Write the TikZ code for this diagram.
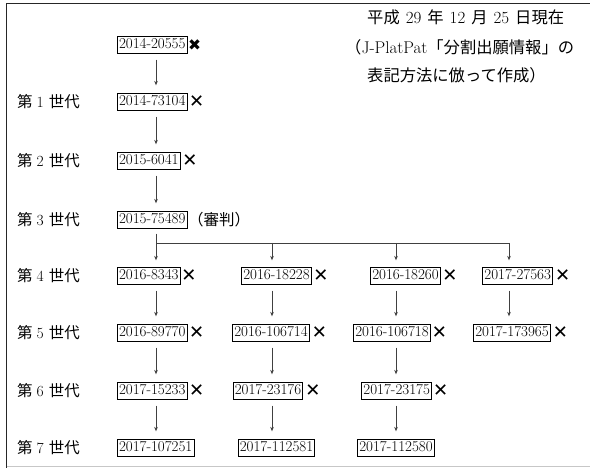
\documentclass[tikz,border=0pt]{standalone}
\usepackage{fontspec}
\newfontfamily\jpf{Noto Sans CJK JP}
\newfontfamily\symf{DejaVu Sans}
\usetikzlibrary{arrows.meta}
\newcommand{\jt}[1]{{\jpf\fontsize{15.5}{18}\selectfont #1}}
\newcommand{\jn}[1]{{\jpf\fontsize{16.3}{19}\selectfont #1}}
\tikzset{
  pat/.style={draw=black, line width=0.8pt, inner xsep=1.6pt, inner ysep=1.6pt,
    text height=10.3pt, text depth=3pt, font=\fontsize{15}{18}\selectfont},
  ng/.style={inner sep=0pt, anchor=west, font=\symf\fontsize{18}{20}\selectfont},
  ngb/.style={inner sep=0pt, anchor=west, font=\symf\fontsize{15.5}{17}\selectfont},
  gen/.style={anchor=west, inner sep=0pt, font=\fontsize{15.5}{18}\selectfont},
  note/.style={anchor=west, inner sep=0pt, font=\fontsize{17}{19}\selectfont},
  arr/.style={draw=black!75, line width=0.7pt, shorten <=6pt, shorten >=8pt,
    -{Stealth[length=4.5pt,width=3.6pt]}},
  ln/.style={draw=black!75, line width=0.7pt},
}
\begin{document}
\begin{tikzpicture}[x=1pt,y=-1pt]
\useasboundingbox (0,0) rectangle (590,468);
% frame
\draw[black!85, line width=1.3pt] (6.5,468) -- (6.5,3.5) -- (590,3.5);
\draw[black!22, line width=1.5pt] (6.5,466.5) -- (590,466.5);

% column coordinates
\coordinate (c1) at (156,0);
\coordinate (c2) at (272,0);
\coordinate (c3) at (396,0);
\coordinate (c4) at (509,0);
\coordinate (br) at (156,243);

% note
\node[note] (t1) at (367,17) {\jn{平成}\hspace{6pt}29\hspace{6pt}\jn{年}\hspace{6pt}12\hspace{6pt}\jn{月}\hspace{6pt}25\hspace{6pt}\jn{日現在}};
\node[note] (t2) at (345,47) {\jn{（}J-PlatPat\jn{「分割出願情報」の}};
\node[note] (t3) at (367,75) {\jn{表記方法に倣って作成）}};

% generation labels
\node[gen] (g1) at (17,102) {\jt{第}\hspace{4pt}1\hspace{5pt}\jt{世代}};
\node[gen] (g2) at (17,161) {\jt{第}\hspace{4pt}2\hspace{5pt}\jt{世代}};
\node[gen] (g3) at (17,220) {\jt{第}\hspace{4pt}3\hspace{5pt}\jt{世代}};
\node[gen] (g4) at (17,276) {\jt{第}\hspace{4pt}4\hspace{5pt}\jt{世代}};
\node[gen] (g5) at (17,333) {\jt{第}\hspace{4pt}5\hspace{5pt}\jt{世代}};
\node[gen] (g6) at (17,391) {\jt{第}\hspace{4pt}6\hspace{5pt}\jt{世代}};
\node[gen] (g7) at (17,448) {\jt{第}\hspace{4pt}7\hspace{5pt}\jt{世代}};

% column 1
\node[pat, anchor=west] (a0) at (117,45) {2014-20555};
\node[ngb] (xa0) at ([xshift=0.5pt]a0.east) {✖};
\node[pat, anchor=west] (a1) at (117,102) {2014-73104};
\node[ng] (xa1) at ([xshift=1.5pt]a1.east) {✕};
\node[pat, anchor=west] (a2) at (117,161) {2015-6041};
\node[ng] (xa2) at ([xshift=1.5pt]a2.east) {✕};
\node[pat, anchor=west] (a3) at (117,220) {2015-75489};
\node[note, inner sep=0pt] (sh) at ([xshift=0.5pt]a3.east) {\jt{（審判）}};
\node[pat, anchor=west] (a4) at (117,276) {2016-8343};
\node[ng] (xa4) at ([xshift=0.5pt]a4.east) {✕};
\node[pat, anchor=west] (a5) at (117,333) {2016-89770};
\node[ng] (xa5) at ([xshift=1.5pt]a5.east) {✕};
\node[pat, anchor=west] (a6) at (117,391) {2017-15233};
\node[ng] (xa6) at ([xshift=1.5pt]a6.east) {✕};
\node[pat, anchor=west] (a7) at (117,448) {2017-107251};

% column 2
\node[pat] (b4) at (276.5,276) {2016-18228};
\node[ng] (xb4) at ([xshift=1.5pt]b4.east) {✕};
\node[pat] (b5) at (271,333) {2016-106714};
\node[ng] (xb5) at ([xshift=2pt]b5.east) {✕};
\node[pat] (b6) at (268,391) {2017-23176};
\node[ng] (xb6) at ([xshift=2pt]b6.east) {✕};
\node[pat] (b7) at (276.5,448) {2017-112581};

% column 3
\node[pat] (d4) at (405.5,276) {2016-18260};
\node[ng] (xd4) at ([xshift=1.5pt]d4.east) {✕};
\node[pat] (d5) at (392,333) {2016-106718};
\node[ng] (xd5) at ([xshift=1pt]d5.east) {✕};
\node[pat] (d6) at (396.7,391) {2017-23175};
\node[ng] (xd6) at ([xshift=1pt]d6.east) {✕};
\node[pat] (d7) at (396,448) {2017-112580};

% column 4
\node[pat] (e4) at (517.7,276) {2017-27563};
\node[ng] (xe4) at ([xshift=2pt]e4.east) {✕};
\node[pat] (e5) at (512,333) {2017-173965};
\node[ng] (xe5) at ([xshift=2pt]e5.east) {✕};

% connectors column 1
\draw[arr] (a0.south -| c1) -- (a1.north -| c1);
\draw[arr] (a1.south -| c1) -- (a2.north -| c1);
\draw[arr] (a2.south -| c1) -- (a3.north -| c1);
\draw[ln, shorten <=5pt] (a3.south -| c1) -- (c1 |- br) -- (c4 |- br);
\draw[arr, shorten <=0pt, shorten >=7pt] (c1 |- br) -- (a4.north -| c1);
\draw[arr, shorten <=0pt, shorten >=7pt] (c2 |- br) -- (b4.north -| c2);
\draw[arr, shorten <=0pt, shorten >=7pt] (c3 |- br) -- (d4.north -| c3);
\draw[arr, shorten <=0pt, shorten >=7pt] (c4 |- br) -- (e4.north -| c4);
\draw[arr] (a4.south -| c1) -- (a5.north -| c1);
\draw[arr] (a5.south -| c1) -- (a6.north -| c1);
\draw[arr] (a6.south -| c1) -- (a7.north -| c1);
% column 2
\draw[arr] (b4.south -| c2) -- (b5.north -| c2);
\draw[arr] (b5.south -| c2) -- (b6.north -| c2);
\draw[arr] (b6.south -| c2) -- (b7.north -| c2);
% column 3
\draw[arr] (d4.south -| c3) -- (d5.north -| c3);
\draw[arr] (d5.south -| c3) -- (d6.north -| c3);
\draw[arr] (d6.south -| c3) -- (d7.north -| c3);
% column 4
\draw[arr] (e4.south -| c4) -- (e5.north -| c4);
\end{tikzpicture}
\end{document}
